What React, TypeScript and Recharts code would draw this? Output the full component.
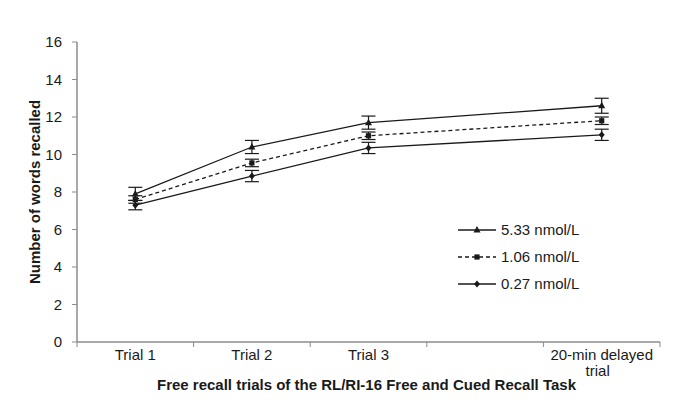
import React from 'react';
import { LineChart, Line, XAxis, YAxis, ErrorBar, Legend } from 'recharts';

const categories = ['Trial 1', 'Trial 2', 'Trial 3', '', '20-min delayed\ntrial'];
const high = [7.9, 10.4, 11.7, null, 12.6];
const highErr = [0.35, 0.35, 0.35, null, 0.4];
const mid = [7.6, 9.55, 11.0, null, 11.8];
const midErr = [0.2, 0.2, 0.2, null, 0.2];
const low = [7.3, 8.85, 10.35, null, 11.05];
const lowErr = [0.25, 0.3, 0.3, null, 0.3];
const yTicks = [0, 2, 4, 6, 8, 10, 12, 14, 16];
const seriesNames = ['5.33 nmol/L', '1.06 nmol/L', '0.27 nmol/L'];

const data = categories.map((c, i) => ({
  cat: c,
  high: high[i],
  highErr: highErr[i],
  mid: mid[i],
  midErr: midErr[i],
  low: low[i],
  lowErr: lowErr[i],
}));

const FONT = '"Liberation Sans", Arial, sans-serif';
const INK = '#1a1a1a';
const AXIS = '#8c8c8c';

const marker = (kind: string, cx: number, cy: number, key?: any) => {
  if (kind === 'tri') {
    return <path key={key} d={`M${cx},${cy - 4} L${cx + 3.5},${cy + 2.5} L${cx - 3.5},${cy + 2.5} Z`} fill={INK} />;
  }
  if (kind === 'sq') {
    return <rect key={key} x={cx - 2.6} y={cy - 2.6} width={5.2} height={5.2} fill={INK} />;
  }
  return <path key={key} d={`M${cx},${cy - 3.5} L${cx + 3},${cy} L${cx},${cy + 3.5} L${cx - 3},${cy} Z`} fill={INK} />;
};

const makeDot = (kind: string) => (props: any) => {
  const { cx, cy, index, value } = props;
  if (cx == null || cy == null || value == null || Number.isNaN(cy)) return <g key={`d${kind}${index}`} />;
  return marker(kind, cx, cy, `d${kind}${index}`);
};

const XTick = (props: any) => {
  const { x, y, payload, index, visibleTicksCount } = props;
  const half = payload && payload.offset ? payload.offset : 58.3;
  const lines = String(payload.value).split('\n');
  const last = index === (visibleTicksCount ? visibleTicksCount - 1 : categories.length - 1);
  return (
    <g>
      <line x1={x - half} y1={y} x2={x - half} y2={y + 5} stroke={AXIS} strokeWidth={1} />
      {last && <line x1={x + half} y1={y} x2={x + half} y2={y + 5} stroke={AXIS} strokeWidth={1} />}
      {lines.map((l, i) => (
        <text key={i} x={x + (i === 1 ? -4 : 0)} y={y + 18 + i * 16} textAnchor="middle" fontSize={15} fontFamily={FONT} fill={INK}>
          {l}
        </text>
      ))}
    </g>
  );
};

const YTitle = (props: any) => {
  const vb = props.viewBox || { x: 0, y: 42, width: 77, height: 300 };
  const cx = vb.x + 34;
  const cy = vb.y + vb.height / 2;
  return (
    <text x={cx} y={cy} transform={`rotate(-90 ${cx} ${cy})`} textAnchor="middle" dominantBaseline="central" fontSize={15} fontWeight="bold" fontFamily={FONT} fill={INK}>
      Number of words recalled
    </text>
  );
};

const XTitle = (props: any) => {
  const vb = props.viewBox || { x: 77, y: 342, width: 583, height: 69 };
  const cx = vb.x + vb.width / 2;
  return (
    <text x={cx - 2} y={vb.y + 48} textAnchor="middle" fontSize={15} fontWeight="bold" fontFamily={FONT} fill={INK}>
      Free recall trials of the RL/RI-16 Free and Cued Recall Task
    </text>
  );
};

const LegendContent = () => {
  const kinds = ['tri', 'sq', 'dia'];
  const dashes = [undefined, '4 3', undefined];
  return (
    <div style={{ fontFamily: FONT, fontSize: 15, color: INK }}>
      {seriesNames.map((n, i) => (
        <div key={n} style={{ height: 27, display: 'flex', alignItems: 'center' }}>
          <svg width={44} height={16} style={{ display: 'block' }}>
            <line x1={2} y1={8} x2={40} y2={8} stroke={INK} strokeWidth={1.3} strokeDasharray={dashes[i]} />
            {marker(kinds[i], 21, 8)}
          </svg>
          <span style={{ marginLeft: 1, lineHeight: '16px' }}>{n}</span>
        </div>
      ))}
    </div>
  );
};

export default function App() {
  return (
    <div style={{ position: 'absolute', left: 0, top: 0, width: 691, height: 411, background: '#fff' }}>
      <LineChart width={691} height={411} data={data} margin={{ top: 42, right: 31, left: 0, bottom: 0 }}>
        <XAxis
          dataKey="cat"
          scale="band"
          height={69}
          axisLine={{ stroke: AXIS, strokeWidth: 1.5 }}
          tickLine={false}
          tickSize={0}
          tickMargin={0}
          interval={0}
          tick={<XTick />}
          label={<XTitle />}
        />
        <YAxis
          domain={[0, 16]}
          ticks={yTicks}
          width={77}
          interval={0}
          axisLine={{ stroke: AXIS, strokeWidth: 1.5 }}
          tickLine={{ stroke: AXIS }}
          tickSize={5}
          tickMargin={10}
          tick={{ fontSize: 15, fontFamily: FONT, fill: INK }}
          label={<YTitle />}
        />
        <Legend layout="vertical" align="center" verticalAlign="middle" wrapperStyle={{ left: 456, top: 216, width: 160 }} content={<LegendContent />} />
        <Line dataKey="high" stroke={INK} strokeWidth={1.3} connectNulls dot={makeDot('tri')} activeDot={false} isAnimationActive={false}>
          <ErrorBar dataKey="highErr" width={7} stroke={INK} strokeWidth={1.2} direction="y" />
        </Line>
        <Line dataKey="mid" stroke={INK} strokeWidth={1.3} strokeDasharray="4 3" connectNulls dot={makeDot('sq')} activeDot={false} isAnimationActive={false}>
          <ErrorBar dataKey="midErr" width={7} stroke={INK} strokeWidth={1.2} direction="y" />
        </Line>
        <Line dataKey="low" stroke={INK} strokeWidth={1.3} connectNulls dot={makeDot('dia')} activeDot={false} isAnimationActive={false}>
          <ErrorBar dataKey="lowErr" width={7} stroke={INK} strokeWidth={1.2} direction="y" />
        </Line>
      </LineChart>
    </div>
  );
}
